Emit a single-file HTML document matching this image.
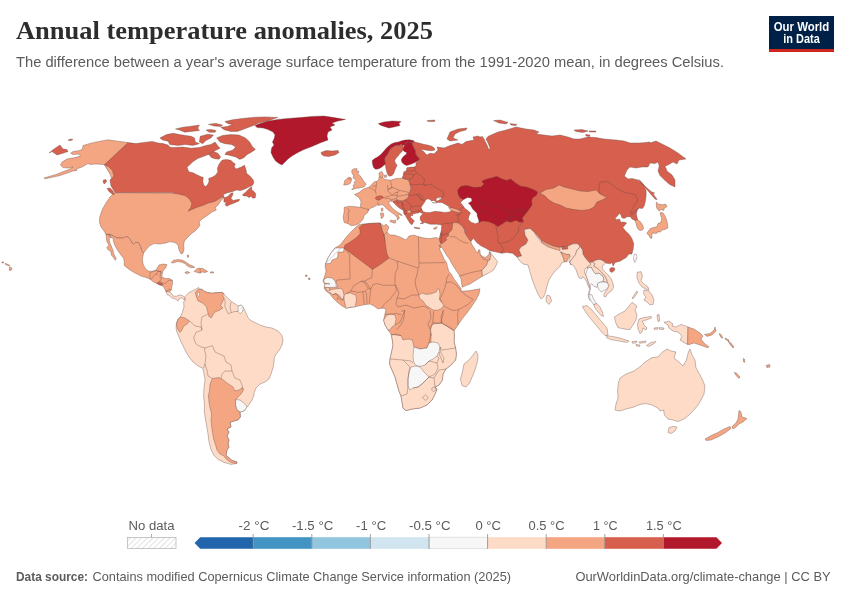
<!DOCTYPE html>
<html lang="en">
<head>
<meta charset="utf-8">
<title>Annual temperature anomalies, 2025</title>
<style>
html,body{margin:0;padding:0;background:#fff;}
body{width:850px;height:600px;overflow:hidden;position:relative;font-family:"Liberation Sans",sans-serif;}
svg{position:absolute;left:0;top:0;display:block;}
.title{font-family:"Liberation Serif",serif;font-weight:700;font-size:25px;fill:#2d2d2d;}
.sub{font-family:"Liberation Sans",sans-serif;font-size:14px;fill:#5b5b5b;}
.leg{font-family:"Liberation Sans",sans-serif;font-size:12.5px;fill:#5b5b5b;}
.foot{font-family:"Liberation Sans",sans-serif;font-size:13px;fill:#5b5b5b;}
.logo{font-family:"Liberation Sans",sans-serif;font-weight:700;font-size:12px;fill:#fff;}
</style>
</head>
<body>
<svg width="850" height="600" viewBox="0 0 850 600">
<defs>
<pattern id="hatch" patternUnits="userSpaceOnUse" width="4" height="4" patternTransform="rotate(45)">
<rect width="4" height="4" fill="#fff"/>
<line x1="0" y1="0" x2="0" y2="4" stroke="#d6d6d6" stroke-width="1.4"/>
</pattern>
</defs>
<rect width="850" height="600" fill="#fff"/>
<text class="title" x="16" y="39.3" textLength="417" lengthAdjust="spacingAndGlyphs">Annual temperature anomalies, 2025</text>
<text class="sub" x="16" y="66.7" textLength="708" lengthAdjust="spacingAndGlyphs">The difference between a year's average surface temperature from the 1991-2020 mean, in degrees Celsius.</text>
<g id="logo">
<rect x="769" y="16" width="65" height="36" fill="#002147"/>
<rect x="769" y="49" width="65" height="3" fill="#ce261e"/>
<text class="logo" x="801.5" y="30.6" text-anchor="middle" textLength="55.5" lengthAdjust="spacingAndGlyphs">Our World</text>
<text class="logo" x="801.5" y="42.6" text-anchor="middle" textLength="36.5" lengthAdjust="spacingAndGlyphs">in Data</text>
</g>
<g id="map" stroke="#5e4740" stroke-width="0.45" stroke-linejoin="round" stroke-opacity="0.8">
<path d="M115 192.6 180 193 186 191 196 201 221 196.2 223 198.2 220 202 218 205 215 208 216.4 210 212 212 208 215 205 217 202 219 199 222 200 225 198 228 195 231 191 234 187.6 237.4 184.4 241 183.6 245 184 249 183 253 181 254 179 250 178 245 175 242.6 170 241.6 166 243 160 244 154 243.6 150 245.6 147 248.6 144.4 252 143.6 253 141.6 250.4 140.4 246.4 138.4 242.6 135.6 242.4 133.4 244.4 132 243 130.4 239.6 128 237 125 236.6 123.6 238 117.6 238 114.4 236.6 111 234.6 106 234.4 104 231 101 227 99.6 223 99.6 218 101 213 103 208 106 203 110 197 113 194.0Z" fill="#f4a582"/>
<path d="M106 234.4 111 234.6 114.4 236.6 117.6 238 123.6 238 125 236.6 128 237 130.4 239.6 132 243 133.4 244.4 135.6 242.4 138.4 242.6 140.4 246.4 141.6 250.4 143.6 253 142.4 259 143 264 145 268 148 271 152 271.4 156 270 159 265 163 264 167 264.6 165.6 268 163 271 161.6 274 158 274 157 277 154 277.4 151 279.4 146 277.4 141 276 135 273 130 270 126 267 124 265 124.4 262 123.6 258.4 121 255 118.4 251.6 116 247.4 114.4 244.4 113.4 241 113 238 110 237.4 110 235.0Z" fill="#f4a582"/>
<path d="M106 234.3 110 235 110 237.3 109.3 238.3 109.3 241 110.3 243.7 111.7 247 113 250.3 113.7 253.7 115 256.3 116.3 259 115.3 260.3 113.7 257.7 111.3 255 111 251.7 108.3 250 106.7 247.7 109 245 107 242.3 106.3 238.3Z" fill="#f4a582"/>
<path d="M150 272.6 153.5 271.5 157.1 270.3 162.4 272.6 161.8 276.8 165.3 278.5 169.4 278.5 172.4 280.3 172.6 283.2 171.8 286.8 171.2 290.3 169.4 291.7 165.9 291.5 164.1 287.4 161.8 285.6 158.8 284.4 155.9 283.2 152.9 281.5 150 279.1Z" fill="#f4a582"/>
<path d="M165.9 291.5 169.4 291.7 171.8 293.8 173.5 296.2 176.5 296.2 179.4 295 182.4 295.6 184.7 297.4 185.3 300.3 183.5 299.7 181.8 297.9 179.4 298.5 178.2 300.9 176.5 299.7 174.1 298.5 171.8 297.9 169.4 295.6 167.1 294.4Z" fill="#fddbc7"/>
<path d="M157.1 283 160 282.6 162.4 284.2 161.8 285.4 158.8 284.6Z" fill="#d6604d"/>
<path d="M171.2 262.6 173.5 260.3 178.2 259.5 182.9 260.3 186.5 262.6 190 265 193.5 266.2 194.7 267.4 191.2 267.7 187.6 266.2 185.3 263.8 181.2 262.1 177.1 261.5 173.5 263.0Z" fill="#f4a582"/>
<path d="M194.1 271.5 197.1 268.5 199.4 268.2 202.9 268.5 205.9 270.3 207.6 271.5 205.3 272.4 201.8 272.1 200 273.2 197.1 272.4Z" fill="#f4a582"/>
<path d="M185.1 272.1 187.6 271.5 189.8 272.6 187.6 273.6 185.3 273.2Z" fill="#f4a582"/>
<path d="M210 272.1 212.9 271.7 214.1 272.6 211.2 273.2Z" fill="#f4a582"/>
<path d="M187.2 255.2 188.4 255 188.8 257.1 187.6 257.4Z" fill="#f4a582"/>
<path d="M128 142.6 136 143.6 144 142.4 152.4 141.4 158 143 163 143.6 168 145 170 147.2 174.7 147.5 182.9 147 191.2 148.2 199.4 147.5 206 145.4 210.9 144.5 215.1 142.1 217.5 145.4 220 148.2 215.9 150.3 212.6 151.9 208.5 154.4 204.4 156.1 197.8 158.5 192.8 161.8 189.5 165.1 187 167.3 188.7 171.7 193 172.8 196.3 174.4 200.6 176.5 203.3 177.6 202.8 181.4 203.8 185.2 205.5 186.6 207.6 184.7 209 181.4 208.7 178.4 212.5 177.1 215.8 174.9 217.9 171.7 217.4 168.4 218.5 165.2 220.6 161.9 222.3 160 226.6 159.5 230.9 160.3 233.1 162.5 235.3 164.1 234.2 166.8 236.3 169 240.7 167.3 244.5 165.2 246.1 170 246.6 173.3 250.4 176.5 253.1 179.8 253.9 182.5 252.6 185.2 249.3 186.8 245 189 240.7 190.6 236.3 190.1 232 191.7 227.7 192.8 223.3 194.4 224.4 197.7 227.7 196.6 230.9 193.3 233.1 192.8 232.5 195.5 230.9 198.2 233.1 200.4 236.3 199.8 239.6 199.3 239 200.9 234.2 203.1 229.8 204.7 226.6 206.3 225 204.2 226.6 202.5 223.9 202 223.9 198.2 222.3 197.1 219 198.8 214.7 201.5 208.2 203.1 203.3 205.3 197.9 206.9 193 209 188.1 211.2 190.8 207.4 191.9 203.1 189.2 198.8 184.9 195.5 180 194.4 178 194 172 192.6 115 192.6 111 186 110 180 113 177 104.4 164.6Z" fill="#d6604d"/>
<path d="M242.3 195 245 192.8 248.3 189.5 250.4 187.4 252 186.8 251.5 189.5 254.2 191.7 255.8 193.9 255.3 197.7 252.6 198.2 251 196 249.3 197.7 246.6 196 243.9 196.0Z" fill="#d6604d"/>
<path d="M224.9 121.5 232.4 119.8 242.2 118.5 252.1 117.4 265.3 116.9 277.7 117.4 271.9 119.5 265.3 121.5 258.7 123.1 255.4 124.8 248.8 127.2 242.2 129.7 237.3 131.4 230.7 131.4 224.1 129.7 220.8 127.2 227.4 126.4 232.4 124.4 227.4 123.4Z" fill="#d6604d"/>
<path d="M175.5 128.9 182.9 127.2 189.5 126.4 199.4 125.1 197.8 128.1 199.4 130.5 191.2 131.4 184.6 132.2 179.6 130.0Z" fill="#d6604d"/>
<path d="M206 130 210.9 129.4 215.9 130.5 215.1 132.2 209.3 132.3Z" fill="#d6604d"/>
<path d="M208.5 124.3 215.9 123.4 222.5 125.1 220.8 126.4 214.2 126.1Z" fill="#d6604d"/>
<path d="M159.9 137.9 166.5 134.6 173.1 133.3 179.6 134.6 185.4 135.5 191.2 136.3 194.5 137.9 195.3 142.1 199.4 143.7 192.8 145.4 185.4 144.5 178 145.4 169.8 144.5 168.1 141.2 162.4 139.9Z" fill="#d6604d"/>
<path d="M200.2 136.3 207.7 134.3 213.4 135 210.9 137.9 206 140.4 202.7 143.7 199.4 142.1Z" fill="#d6604d"/>
<path d="M216.7 137.9 222.5 135.5 230.7 134.6 238.9 135 245.5 137.9 249.7 142.1 252.1 146.2 255.4 149.5 250.5 152.8 247.2 154.4 243.9 157.7 239.8 159.4 235.7 156.9 229.1 155.2 224.9 154.4 226.6 151.9 232.4 150.3 235.7 147 231.5 144.5 224.9 143.7 220 142.1Z" fill="#d6604d"/>
<path d="M208.7 154.3 213.6 151.6 217.9 153.3 220.6 157 219 159.2 214.7 158.7 211.4 157.6Z" fill="#d6604d"/>
<path d="M107 188.4 110 188 113 191 114.4 194.4 112 194 109 191.6Z" fill="#d6604d"/>
<path d="M103.4 180 106 179.6 106.6 181.6 104.4 184 103.2 182.4Z" fill="#d6604d"/>
<path d="M128 142.6 118 141.2 108 139.8 99 141.4 90 143.4 83 145.6 82.4 149 80 150.4 73 151.6 70.6 153.2 73 154.6 79 154 80.4 156 75 157.6 67 159 62 162 60.4 165 63 167.6 68 168 73 167 70 169 56 174.4 44 178 45 178.8 60 175.6 73 171 77 170.4 76.4 169 82 167 88 163.6 90 164.4 96 164 104.4 164.6 109 167 112.4 170.4 114 176 111.6 178.4 110 174 107 169 104.4 164.6Z" fill="#f4a582"/>
<path d="M49 153 54 149 60 145 63 149 67 149.6 68 151.6 62 153.6 57 155 52 151.6Z" fill="#d6604d"/>
<path d="M68 140 71 139 73 139.6 70 140.8Z" fill="#d6604d"/>
<path d="M255 125.6 260 123.6 268 121 278 119.4 288 118.4 300 117.6 312 116.4 324 116 334 117.6 345.6 119.4 338 121 332 123 335 125 330 127 332 130 328 132 327 136 328 140 320 143 312 146.4 304 149.6 298 152.4 292 156 288 159 285 162 282 165 279 163.6 275.6 161 273 157 271 152.4 271.6 148 274 145 272.4 142 274 139 275 135 273 132 268 129.6 263 128 257 127.6Z" fill="#b2182b"/>
<path d="M321 152.4 326 150.6 332 151 338 150.4 339 152.6 335 155 329 156.4 324 156 321.6 154.4Z" fill="#d6604d"/>
<path d="M185.3 300.3 184.7 297.4 185.3 296.2 188.8 292.6 193.5 290.3 197.1 288.5 198.5 287.4 199.4 289.1 201.8 289.1 203.5 290.9 207.6 292.6 212.4 293.2 217.1 292.6 221.8 292.4 223.5 293.2 225.3 295.6 228.8 299.1 232.4 302.1 235.9 304.4 238.2 306.2 241.2 305 243.5 307.9 245.3 311.5 246.5 313.8 247.6 317 250 320 254 322 260 325 266 327 272 328 278 331 281.6 335 283 339 282.4 344 280 349 277 353 274.4 357 274 362 273 368 271 374 269 379 265 382 260 384 256 388 254 393 254 395 252 400 248 406 247 407 244 411 240 412 240.4 417 238 420 234 421 230 422.4 231 427 227 429 229 432 227 436 229 440 228 444 229 447 227 450 226 455 228 457 232 460.4 237 462 237 463.4 231 464.4 224 462.4 218 459.4 214 455.4 211 449.4 209 442 208 434 207 428 205.6 420 204.4 412 204.4 404 203.6 396 204 388 205 380 204 374 203 368.4 198 366 193 362 189 357 186 352 183.6 347 181 342 179 337 177 332.4 176 328 176.4 323 178 319 181 316 182.4 312 184 307 183.6 302.0Z" fill="#fddbc7"/>
<path d="M195.3 292.6 197.1 290.3 198.5 289.1 199.4 289.7 201.8 289.1 203.5 290.9 207.6 292.6 212.4 293.2 217.1 292.6 221.8 292.4 223.5 293.2 222.9 295.6 224.1 298.5 222.4 302.1 220.6 305.6 222.9 307.9 219.4 310.3 215.9 311.5 213.5 313.8 211.2 317.9 208.8 316.2 207.6 311.5 206.5 306.8 202.9 303.2 198.2 300.9 196.5 297.4Z" fill="#f4a582"/>
<path d="M197.6 292.6 199.2 292.4 199.6 295 198.5 296.4 197.4 295.0Z" fill="#ffffff" stroke="#5e4740" stroke-width="0.4"/>
<path d="M178 319 181 317 185 318 189.6 321 187 324 183.6 326.4 182 330 180 332.4 177.6 329 176.4 325.0Z" fill="#f4a582"/>
<path d="M238.2 306.2 241.2 305 243.5 307.9 242.4 311.5 240 313.8 238 311.5Z" fill="url(#hatch)"/>
<path d="M212.4 378.4 219 377.6 222 379 227 383 233 387 235 391 239 390 242.4 387.6 243.6 390 241 394 237 398 235.6 400 235.6 405 237 409.6 240 412 240.4 417 238 420 234 421 230 422.4 231 427 227 429 229 432 227 436 229 440 228 444 229 447 227 450 226 455 228 457 232 460.4 237 462 236 463.6 231 462.4 226 459 224 456 220 454 217 450 215.6 445 213.6 439 212.4 432 211.6 426 211 420 211.6 414 210 408 209 402 208.4 396 209.6 390 210 384.0Z" fill="#f4a582"/>
<path d="M235.6 399.6 240 400 245 404 247 407 244 411 240 412 237 409.6 235.6 405.0Z" fill="#f7f7f7"/>
<path d="M402.6 178.2 402.1 177.9 403.3 175 403.8 171.7 405.8 171.2 406.7 169.6 406.7 167.9 407.5 167.5 411.7 167.1 415 167.1 416.2 165.4 415.8 163.3 418.3 160.4 419.6 158.8 417.5 156.7 415.8 154.2 415.4 150.8 413.8 147.9 412.5 145 411.7 142.5 414.2 141.7 416.7 142.5 420 143.3 423.3 144.2 427.5 145 431.7 146.2 434.2 147.9 435 150 431.7 150.8 428.3 150.4 425 150 422.5 149.6 420.8 150 423.3 151.2 425 152.9 426.7 155 428.3 154.2 430 153.3 434.2 153.8 438 150 437 147 441 147.6 444 148 450 145.6 458 143 462 144.4 466 141.6 474 140 473 137 478 136 480 137 482.4 136.4 484 139 487 145 489 150 490 148 488 143 486 139 488 136.4 491 135 498 132 506 130 516 127 526 129 534 130 539 132 536 134 544 135 552 136 560 135 568 137 574 139 580 139 588 137 596 137.6 604 139 616 140 624 141 630 143 640 143 650 142 650 143 656 141 662 144 670 148 678 153 686 159 679 160 677 164 673 162 668 165 665 166 667 171 672 175 675 180 675 187 669.6 184.4 664 179.6 660 175.6 658 171 659.2 166 658 162 655 163.6 650 163 648 167 642 167 636 168 630 167 627 170 624.4 176 628 179 632 178.4 638 180 643 184 646 190 646.2 194.3 645.5 200.8 644.2 206 642.3 208.6 639 208 637.1 210.6 636.4 213.8 637.1 217.7 637.7 219.7 635.1 220.6 631.9 219 630.6 216.7 627.3 216.7 624.1 218.4 621.8 217.7 620.8 214.5 619.5 213.6 617.6 215.8 615 218.4 616.9 219.7 619.5 219 620.8 222.3 624.1 221.9 626.7 222.9 622.8 227.5 625.4 230.7 629.3 234.6 631.9 238.5 633.8 243.7 633.2 248.9 631.9 254.1 629 254 626.2 257.5 620 261.2 615 262.5 613.1 266.2 611.9 262.5 610 263.8 605.6 263.1 603.8 261.2 600 259.4 596.2 260 592.5 261.9 589.4 262.5 587.5 260.6 585 257.5 583.1 254.4 582.5 250 580 246.2 577.5 243.8 573.1 243.8 569.4 245.6 567.5 246.2 561.9 246.9 560 247.5 553.8 246.2 546.2 243.1 541.2 240.6 534 232 530 228.4 524.4 229.6 525 235 528 240 526 244 521 247 519 250 521.6 256 517 257 512.5 253.3 506.7 252.5 501.7 253.3 495 251.7 490 250.8 485.8 248.3 480.8 245.8 476.7 242.5 473.3 238.3 470.8 241.7 468.3 238.3 465 233.3 464.2 229.2 461.7 225.8 457.5 223.7 455.8 228.3 451.7 232.5 447.5 235 445 236.7 442.5 235 441.7 240 440.8 243.3 439.7 241.7 440 236.7 440.8 233.3 441.3 230 441.7 225 436.7 224.2 430 224.2 425 222.5 420 223.3 423.3 223.8 421.7 221.7 420.4 220 420 217.9 420.8 215.8 423.3 213.8 421.2 212.9 420 212.1 418.3 212.9 416.2 213.3 414.2 213.8 412.5 214.3 412.7 216 411 215.2 410.4 217.1 411.7 218.3 413.3 220 414.6 221.2 413.3 222.1 412.5 224.2 411.2 224.6 409.8 222.9 408.8 221.2 407.5 219.2 406.2 217.1 405.2 215 404 214.2 403.5 212.1 403.3 210 402.1 209.8 399.2 207.9 396.7 205.8 394.6 203.8 393.3 202.5 392.9 201.2 395 200.8 397.1 199.8 399.2 200.4 402.5 200.7 405.4 199.6 407.5 197.9 408.8 195.8 407.9 194.6 408.8 193.3 410 191.2 410.8 188.3 410 185 409.8 184.1 408.5 179.8Z" fill="#d6604d"/>
<path d="M369.1 187.3 372.1 184.1 374.7 181.5 376.6 181.5 378.6 179.5 379.2 176.9 379 173 381.8 171.4 383.4 174.3 382.9 177.6 384.4 179.2 390.3 180.2 396.1 178.5 402.6 178.2 408.5 179.8 409.8 184.1 410.8 188.3 410 191.2 408.8 193.3 407.9 194.6 408.8 195.8 407.5 197.9 405.4 199.6 402.5 200.7 399.2 200.4 397.1 199.8 395 200.8 392.9 201.2 391.5 201.2 391 201 388.8 201.8 389 204 390.5 205.8 392.2 208 394.5 210 397 211.8 400 213.5 402.2 215 401.5 215.8 399.5 214.5 398.2 215.5 399 217 399.5 218.2 398.2 219.2 397.5 220.2 397 219 397.2 217.5 396 216 394.2 214.2 392 212.8 389.5 211 387.2 209.2 385.5 207.5 384.2 205.8 382.5 204.8 380.5 204.8 378.8 205.5 377.5 204.8 374 206.8 369.5 208.8 367.5 210.1 369.1 209.7 367.5 212.7 364.3 215.3 363 219.2 359.7 223.1 355.8 225 351.3 225.7 348 223.7 344.1 222.4 343.1 217.2 344.1 212 344.1 207.5 349.3 206.2 355.8 206.8 361 207.5 360.4 206.2 361 201.6 359.1 197.7 354.5 194.5 359.1 192.5 363 189.3 366.2 188.0Z" fill="#f4a582"/>
<path d="M375.2 198.3 376.2 196.7 378.3 196 380.4 195.7 382.5 196.2 383.8 197.5 382.5 198.3 380.8 198.8 380 200 377.9 200.2 376.2 199.6Z" fill="#d6604d"/>
<path d="M406.8 210.8 409.2 210 411 210.7 411.2 212.1 409.6 213.2 407.5 212.9Z" fill="#f4a582"/>
<path d="M352 170 354 168.7 357.3 168.7 356.3 170.7 359 171.3 358 173.7 360 175.7 362 178.3 363.3 180.7 365.3 183 366 184.3 364.7 186.3 362.7 187.3 359.3 188 356 188.3 353.3 189.3 351.7 189.7 353.7 187.3 353 185.3 355 184.3 354 182.3 356 180.7 355 179.3 353 177.7 353.7 175.7 352.3 173.7 351.7 171.7Z" fill="#f4a582"/>
<path d="M343.7 185 344.3 182.7 344.7 180.7 346.7 178.7 348.7 177.3 351 177.7 351.7 179.3 351 181.7 350.3 183.3 348.7 184.3 346 185.0Z" fill="#f4a582"/>
<path d="M384.2 175.3 386.4 175 386.8 176.9 384.7 177.6Z" fill="#f4a582"/>
<path d="M389.8 220.8 391.5 220.2 393.5 220.8 395.5 220.2 395.8 221.5 395.2 223.2 394 223 392 222.2 390.2 221.8Z" fill="#f4a582"/>
<path d="M380.2 213.5 381.5 213 383.5 213.2 383.8 215 383.2 217 382 218.5 381.2 218.2 381 216.0Z" fill="#f4a582"/>
<path d="M381.2 208.5 382.2 207.9 383 208.5 382.9 210.5 382.2 211.5 381.4 211.0Z" fill="#f4a582"/>
<path d="M414.2 227.3 416.7 227.5 419.8 227.9 419.6 228.8 416.7 228.5 414.3 228.0Z" fill="#d6604d"/>
<path d="M433.3 228.3 435.4 227.5 437.3 226.7 436.7 227.9 435.8 229.2 434.2 229.3Z" fill="#f4a582"/>
<path d="M385.4 164.2 385 162.1 384.6 159.2 385.4 156.7 387.5 154.6 388.8 151.7 390 149.6 391.7 147.5 394.2 146.2 396.2 145 398.8 145.4 400.8 144.2 402.9 145 403.5 147.5 402.9 150 401.7 152.1 400 153.3 398.3 155.8 396.2 157.9 394.6 160.4 395.4 162.9 397.1 165.4 395.8 167.9 394.6 170.8 393.8 173.3 392.1 175.4 389.6 176.2 387.9 175 386.7 171.7 385.8 167.9Z" fill="#d6604d"/>
<path d="M372.1 160.8 374.2 158.8 377.5 157.1 380.8 154.6 383.3 151.7 385.8 148.8 388.3 146.2 391.7 143.8 395 142.5 398.3 142.1 401.7 140.8 405 140 409.2 139.8 413.3 140.4 414.2 141.7 411.7 142.5 408.3 142.1 405.8 143.3 404.6 145.4 402.9 145 400.8 144.2 398.8 145.4 396.2 145 394.2 146.2 391.7 147.5 390 149.6 388.8 151.7 387.5 154.6 385.4 156.7 384.6 159.2 385 162.1 385.4 164.2 383.3 165.8 381.2 167.5 378.8 168.8 375.8 169.3 373.8 167.9 372.7 165.0Z" fill="#b2182b"/>
<path d="M404.6 145.4 405.8 143.3 408.3 142.1 411.7 142.5 412.5 145 413.8 147.9 415.4 150.8 415.8 154.2 417.5 156.7 419.6 158.8 418.3 160.4 415.8 162.1 413.3 163.3 410 164.6 406.7 165.4 404.2 164.6 402.1 162.5 401.2 160 402.5 157.5 404.2 155.8 406.2 154.2 406.7 152.5 404.2 151.5 402.9 150 403.5 147.5Z" fill="#b2182b"/>
<path d="M378.4 123.6 384 122 392 121 401 121.4 399 123.6 400 125.6 394 127 389 128 384 126.4 380 125.0Z" fill="#b2182b"/>
<path d="M447 139 450 132 458 129 467 128 466 130 460 131.6 455 134 453 138 458 140 450 141.0Z" fill="#d6604d"/>
<path d="M427 120.6 435 120 434.4 121.6 428 121.6Z" fill="#d6604d"/>
<path d="M493.6 120.6 500 120 508 122.4 506 124 499 123.0Z" fill="#d6604d"/>
<path d="M510 123.6 517 124.4 516 125.6 511 125.0Z" fill="#d6604d"/>
<path d="M574 130 582 129.6 588 131 583 132.4 576 131.6Z" fill="#d6604d"/>
<path d="M589 131 596 131 595.6 132 589.6 132.0Z" fill="#d6604d"/>
<path d="M585.6 134.4 590 135 589.6 136.4 586 136.0Z" fill="#d6604d"/>
<path d="M640.3 180.7 642.9 183.9 646.8 187.8 651.4 191.7 654.6 193 653.3 194 655.3 196.9 657.2 199.5 655.3 199.2 652 195.6 648.8 191.7 644.9 187.2 641.6 183.3 639 179.6Z" fill="#d6604d"/>
<path d="M540 193 546 189.6 554 188 559 185 564 187 572 189 580 191 588 191.6 596 190 600 194 607 197.6 602 200 597 202 594 207 589 209.6 582 210.4 574 209.6 566 208 560 205 554 203 549 200 545 196.0Z" fill="#f4a582"/>
<path d="M457.7 189.7 461.2 186.2 466.9 185.5 474 187.6 481.1 186.9 483.9 184.1 481.8 181.2 486.7 179.1 492.4 177.7 496.7 176.3 500.9 178.4 506.6 180.5 510.8 179.1 515.1 182.7 520.7 186.2 526.4 186.9 532.1 189 537.7 191.9 536.3 195.4 532.8 197.5 531.4 201.1 532.1 204.6 529.9 208.2 527.8 211 525 214.5 522.2 218.1 523.6 221.6 520 222.3 515.8 220.2 510.8 222.3 506.6 220.9 502.3 223.7 498.1 226.6 493.8 223.7 488.2 221.6 482.5 220.9 479 222.3 478.5 219.5 477.1 213.8 475.4 211.7 472.6 208.9 470.5 205.3 468.3 203.2 471.9 201.1 471.4 198.2 467.6 197.5 463.4 199.7 459.8 197.5 458.1 194.0Z" fill="#b2182b"/>
<path d="M460.5 202.5 463.4 199.7 467.6 197.5 471.4 198.2 471.9 201.1 468.3 203.2 470.5 205.3 472.6 208.9 475.4 211.7 477.1 213.8 477.1 215.9 478.5 219.5 479 222.3 475.4 223.7 471.2 222.3 468.3 219.5 469 215.9 470.5 213.1 467.6 210.3 464.8 208.2 462.7 205.3Z" fill="#ffffff" stroke="#5e4740" stroke-width="0.4"/>
<path d="M422.1 210 421.2 207.1 422.5 205 424.2 202.9 425.4 200.4 427.5 198.8 430 199.6 431.7 201.2 433.3 200.4 435.4 201.2 436.7 202.9 434.2 203.3 432.1 202.5 441.7 202.5 445 204.2 449.2 206.7 452.5 209.7 450 211.7 445 212.5 440 211.7 435 211.3 430 212.5 426.7 212.5 423.3 211.7Z" fill="#ffffff" stroke="#5e4740" stroke-width="0.4"/>
<path d="M435.8 200.4 436.7 198.3 438.8 197.5 440.8 197.1 441.7 198.8 439.2 200 437.1 201.0Z" fill="#ffffff" stroke="#5e4740" stroke-width="0.4"/>
<path d="M448.5 207.5 452.7 207.9 457.7 209.6 461.2 211.7 459.1 212.7 454.9 211.7 450.6 210.3Z" fill="#f4a582"/>
<path d="M359 224.6 363 224 370 223.4 380 223 384 226 386 224 389 227 387 232 390 235 394 235 400 237 406 240 409 236 414 235 418 236.6 424 238 430 238.6 436 237.4 442.4 240 440.8 248 439.2 245 440.2 250.6 442.4 254.8 443.8 258.8 446.6 262.6 447.4 266.6 448.8 271.2 451.6 274.4 453.4 278.2 456.6 282.2 459.4 286.4 461.2 288.6 460.4 290.6 462.4 291.2 470 290.6 480 288.8 479 294 476 300 472 306 467 313 462 319 458 325 454 331 454.4 336 454 342 455.6 348 456.4 354 455.6 360 451 365 446 369 443 374 442.4 380 439 385 435 387 437 389 435 394 432 400 427 405 420 408 412 409 406 410.6 403 408 402 402 401 396 399 391 397 384 395 377 392 370 389.6 364 390 359 391.6 352 393 345 392 338 391 334 388 330 385 325 383.6 320 385 314 386 309 382 308 378 309 374 306 370 304 363 305 356 306.6 346 308 342 306 337 302 333 298 330 294 326 291 324 288 325 285 323 281 325 275 326 271 325 266 326 263 328 258 331 253 335 248 340 245 344 240 348 235 352 231 356 227.0Z" fill="#f4a582"/>
<path d="M359 227.4 363 224.6 370 223.4 380 223 381 227 382 231 384 235 385 241 386 248 387 254 389 258 381 264 372.4 269.4 368 266 360 260 352 254 344 248 345 245 350 242 356 238 360 234 360 230.0Z" fill="#d6604d"/>
<path d="M335 248 344 248 343.6 252 338 252 337.6 258 332 260 331 263 325 264 326 263 328 258 331 253.0Z" fill="url(#hatch)"/>
<path d="M323.6 280 327 277.4 332 278 336 282 337.6 287 332 287.4 326 287.4 324 286 325 284 330 284 324.4 283.0Z" fill="#f7f7f7"/>
<path d="M325.3 287.6 330 288.2 328.8 290.8 331.8 289.4 336.5 288.8 341.2 288.2 342.9 290.8 344.1 295.3 342.9 300 341.2 297.6 338.8 295.3 335.9 293.5 332.9 294.7 330.6 292.9 328.8 292.4 326.5 289.4Z" fill="#fddbc7"/>
<path d="M344.1 295.3 346.5 293.5 350.6 292.9 354.1 294.7 355.9 294.7 356.5 300 355.3 306.7 349.4 307.3 345.9 308.5 345.3 305.3 344.1 300.0Z" fill="#fddbc7"/>
<path d="M418.8 295.6 421.9 293.1 426.2 294.4 431.2 293.8 436.2 291.9 437.5 288.8 439.4 289.4 440 294.4 439.4 299.4 441.9 302.5 443.8 305.6 441.2 308.8 437.5 310.2 433.1 310 429.4 307.5 426.2 305.6 423.1 301.2 420 298.8Z" fill="#fddbc7"/>
<path d="M391 334.4 401 335.6 403 340 408 339 412.4 340 414 347 420 349 427 348 429 343 431 342 431 334 430 329 433 324 442 323 454 331 454.4 336 454 342 455.6 348 456.4 354 455.6 360 451 365 446 369 443 374 442.4 380 439 385 435 387 437 389 435 394 432 400 427 405 420 408 412 409 406 410.6 403 408 402 402 401 396 399 391 397 384 395 377 392 370 389.6 364 390 359 391.6 352 393 345 392 338.0Z" fill="#fddbc7"/>
<path d="M383.6 320 387 315 390 314 395 315 396 319 395 325 392 327 390 330 388 330 385 325.0Z" fill="#fddbc7"/>
<path d="M414 347 420 349 427 348 429 343 433 342 438 343 440 347 439 352 437 356 433 359 429 361 425 365 420 366.4 416 365.6 413.6 362 413 355.0Z" fill="#f7f7f7"/>
<path d="M411 367 416 366 420 367 424 372 429 377 426 380 422 384 418 387 413 388 410 390 408 386 408 379 409 372.0Z" fill="#f7f7f7"/>
<path d="M476 351 478 355 477.6 361 475.6 368 473 375 469.6 383 466 387 462 385.6 460.4 379 462.4 372 464 364 469 360 473 355.0Z" fill="#fddbc7"/>
<path d="M441.4 235.1 443.4 234.8 445.7 234.2 448.4 233.7 449.8 231.9 451.6 230.2 452.2 228.4 452.4 225.5 452.7 222.9 454.5 222.6 458.6 222.9 459.7 224.3 461.7 225.8 464.2 229.2 465 233.3 468.3 238.3 470.8 241.7 472 244.7 474.2 248 476.3 251.7 478 253 478.3 250 479.7 249.7 480.3 254.2 482.5 256.7 485.8 257.3 488.7 254.7 489.7 251.7 490.8 255 490 260 488.3 260.3 486.7 265 482 270.3 482.5 276.2 477.5 279.3 470 284 465.3 285.8 462.2 287.2 461.7 284.5 461.2 279.8 459.8 275.8 457 271.7 454.3 267.5 451.5 263.3 450.2 260.2 447.5 256.5 444.7 252.3 442 247.8 440.2 245.3 440.8 243.3Z" fill="#f4a582"/>
<path d="M489.7 251.7 491.7 254.2 495 258.3 497.5 261.7 496.3 265 493.7 270 487.5 273.7 482.5 276.2 482 270.3 486.7 265 488.3 260.3 490 260 490.8 255.0Z" fill="#fddbc7"/>
<path d="M441.4 235.1 443.4 234.8 445.7 234.2 448.4 233.7 449 235.4 446.9 236.9 445.5 238 446.9 239.5 445.7 240.9 444 242.1 442.5 243.3 441.1 243.6 440.8 241.2 441.1 238.3Z" fill="#d6604d"/>
<path d="M439.3 239.5 439.9 236.6 440.5 233.7 441.4 231.9 442 232.5 441.7 234.8 441.4 238.3 441.1 241.2 440.8 243 440.2 242.4Z" fill="#d6604d"/>
<path d="M440.2 236.1 441 236 441.1 237.6 440.3 237.7Z" fill="#f4a582"/>
<path d="M524.4 229.6 530 228.4 534 232 537 237 541 242 548 247 556 249 560 247.5 561.9 246.9 567.5 246.2 569.4 245.6 573.1 243.8 577.5 243.8 580 246.2 578.8 248.8 576.9 250 575.6 254.4 573.1 257.5 571.2 260 570 262.5 571.2 265 569.4 262.5 568.8 259.4 570 256.2 569.4 254.4 566.2 254.4 563.1 253.1 560.6 251.9 562.5 255.6 563.8 258.8 564.4 261.9 561.6 263 559.6 267 556 270 552 275 549 280 547 286 545.6 292 543.6 297 541 299 538 294 535 287 532.4 280 530 272 528 265 523 264 519 260 517 257 521.6 256 519 250 521 247 526 244 528 240 525 235.0Z" fill="#fddbc7"/>
<path d="M541.2 240.6 546.2 243.1 553.8 246.2 560 247.5 560 250.6 553.8 248.8 546.2 245.6 541.5 242.5Z" fill="#f4a582"/>
<path d="M561.9 246.9 567.5 246.2 567.8 249 562.2 249.4Z" fill="#d6604d"/>
<path d="M560.6 251.9 563.1 253.1 566.2 254.4 569.4 254.4 570 256.2 568.1 258.1 566.9 261.9 564.4 261.9 563.8 258.8 562.5 255.6Z" fill="#f4a582"/>
<path d="M547 295 550 296 551.6 301 549 304.4 546.4 302 546 298.0Z" fill="#fddbc7"/>
<path d="M580 246.2 582.5 250 583.1 254.4 585 257.5 587.5 260.6 589.4 262.5 591.2 263.8 589.4 265.6 587.5 266.9 585 268.8 584.4 271.9 585.6 274.4 586.9 277.5 588.1 281.2 589.4 285 590 288.8 588.1 286.2 586.9 281.9 585 278.8 582.5 276.9 581.2 278.8 578.8 277.5 577.5 274.4 576.2 270 573.8 266.2 571.9 264.4 571.2 265 570 262.5 571.2 260 573.1 257.5 575.6 254.4 576.9 250 578.8 248.8Z" fill="#fddbc7"/>
<path d="M585.6 274.4 587.5 268.1 591.2 266.9 593.1 270.6 595.6 273.8 598.8 273.1 601.9 275 603.8 278.1 603.1 281.9 600 282.2 597.5 283.8 596.9 287.5 593.8 286.2 591.9 283.8 590 285 590.6 288.8 589.4 292.5 590.6 296.2 593.1 300 589.4 300 588.1 295 589.4 290 589.4 285 588.1 281.2 586.9 277.5Z" fill="#f7f7f7"/>
<path d="M589.4 262.5 592.5 261.9 595 263.8 593.8 266.2 597.5 268.1 601.2 271.9 605 276.2 606.9 280 607.5 282.5 603.1 281.9 603.8 278.1 601.9 275 598.8 273.1 595.6 273.8 593.1 270.6 591.2 266.9 587.5 268.1 587.5 266.9 589.4 265.6 591.2 263.8Z" fill="#fddbc7"/>
<path d="M597.5 283.8 600 282.2 603.1 281.9 607.5 282.5 608.8 285.6 607.5 288.8 603.8 290.6 601.2 291.9 598.8 289.4 597.5 286.2Z" fill="#f7f7f7"/>
<path d="M592.5 261.9 596.2 260 600 259.4 603.8 261.2 605.6 263.1 603.1 265 601.9 268.1 604.4 271.2 608.1 275 611.2 278.8 613.1 283.8 613.5 287.5 611.2 291.2 608.1 293.1 605.6 296.9 603.8 296.2 604.4 293.1 607.5 288.8 608.8 285.6 607.5 282.5 606.9 280 605 276.2 601.2 271.9 597.5 268.1 593.8 266.2 595 263.8Z" fill="#fddbc7"/>
<path d="M609.8 268.5 611.9 267.5 614.8 268.1 614.4 270.6 611.9 272.5 609.8 271.2Z" fill="#d6604d"/>
<path d="M634.4 254.4 636.2 254 636.9 256.2 636 260.6 634.8 262.5 633.5 259.4 633.8 256.2Z" fill="url(#hatch)"/>
<path d="M635.1 220.6 637.7 219.7 640.3 221.6 642.9 225.5 643.6 228.8 641.6 230.5 639 230.1 637.1 227.5 636.2 224.2Z" fill="#f4a582"/>
<path d="M656.2 202.1 658.5 204.1 662.4 204.7 665.7 204.1 667 206.7 664.4 208 663.7 210.6 661.1 209.3 659.2 211.2 656.6 208.0Z" fill="#f4a582"/>
<path d="M660.1 212.8 662.7 212.5 665 215.8 666.3 219 667.6 224.2 667.9 227.9 665 229.4 662.2 230.1 660.1 232.3 657.9 231.4 657.2 233.1 654.6 233.6 652.7 232.7 651.8 235.3 652 237.9 650.7 238.5 649.2 235.9 646.8 233.3 647.9 231.8 650.1 228.8 653.3 227.5 657 226.8 657.9 223.6 660.9 222.3 661.8 218.4 660.5 215.1Z" fill="#f4a582"/>
<path d="M582.4 306.4 587 305.6 592 310 597 316 602 322 607 328 608 335 605 335.6 600 330 595 324 590 318 585 311.0Z" fill="#fddbc7"/>
<path d="M593.6 304.4 597 303.6 600 307 602.4 312 603.6 316.4 601 315.6 598 312 595 308.0Z" fill="#fddbc7"/>
<path d="M589 294 592 295 594 300 596.4 303.6 593.6 304.4 591 301 589 297.0Z" fill="#f7f7f7"/>
<path d="M606.4 335.6 612 336.4 620 338 629 341 627 342.4 619 341 611 339.6 607 338.0Z" fill="#fddbc7"/>
<path d="M632 341.6 637 341 636 343 632.4 343.2Z" fill="#fddbc7"/>
<path d="M639 342 646 341 645.6 342.6 639.6 343.2Z" fill="#fddbc7"/>
<path d="M636 344.4 640 345 639.6 346.4 636.4 346.0Z" fill="#fddbc7"/>
<path d="M646.4 345.6 651 342.4 656 341.6 654 343.6 649 346.4Z" fill="#fddbc7"/>
<path d="M614.4 317 619 314 625 311 629 306 632 302.4 637 306 635 310 637 315 636 320 633 325 630 329.6 624 329 618 327.6 615.6 322.4Z" fill="#fddbc7"/>
<path d="M639 319 644 317.6 651 316.4 651.6 318 646 320 642.4 321 644 325 647 328 646 330 643 328 642 332 640 333.6 638 329 637.6 324.0Z" fill="#fddbc7"/>
<path d="M637 272.4 641 271.6 642.4 276 641 281 644 284 648 287 649 290 646 289 642 287 639 283 637 278.0Z" fill="#fddbc7"/>
<path d="M644 290 649 291 652 295 654 300 653 304.4 650 305 647 302 644 300 646 297 643.6 294.0Z" fill="#fddbc7"/>
<path d="M632 298 637 291 637.6 292.4 633 299.0Z" fill="#fddbc7"/>
<path d="M657 315 659 314.4 659.6 321 658 321.6Z" fill="#fddbc7"/>
<path d="M654 328 658 327.6 657.6 329.2 654.4 329.4Z" fill="#fddbc7"/>
<path d="M659 327.6 664 328 663.6 329.6 659.4 329.2Z" fill="#fddbc7"/>
<path d="M664 322.4 669 321 673 324 672 326 676 327 681 324.4 688 327 687.6 344.4 683 342 680 340 682 336 678 332 673 331 669 328 668 325.0Z" fill="#fddbc7"/>
<path d="M688 327 694 329 700 333 703 336 701 339 704 343 709 347 707 347.6 700 345 694 343 690 344.4 687.6 344.4Z" fill="#f4a582"/>
<path d="M704.4 334.4 710 333.6 714 330 715 327 716 331 712 335 707 336.4Z" fill="#f4a582"/>
<path d="M719 333.6 721 334.4 723 338 721 337.6Z" fill="#f4a582"/>
<path d="M725 338 729 340 728.6 341.2 725.6 339.6Z" fill="#f4a582"/>
<path d="M620 378 626 374 634 371 641 366 645 362 652 357.6 658 357 662 352.4 667 349 671 351 676 352 674 358 679 362 683 366 686.4 360 688.4 352 690 349 692 355 695 360 696 368 700 375 703 381 705 386 704 394 701 400 698 405 694 410 689 415 684 419 678 421.6 673 420 668 419 664.4 415 663.6 410 660 411 658 408 652 405 646 403.6 640 404.4 634 407 626 409 620 411 615 410 616 404 618 398 617.6 390 618.4 383.0Z" fill="#fddbc7"/>
<path d="M669 427.6 673 426.4 677 427 675 431 671 433.6 668 432.4Z" fill="#fddbc7"/>
<path d="M739 410.4 741 412 742 417 747 418.4 743 422 739 424 736 427 733 429 732 426.4 736 423 738 419 738.4 415.0Z" fill="#f4a582"/>
<path d="M730 426.4 731 428.4 725 433 718 437 711 440 706 440.4 705 439 711 435.6 718 432.4 724 429.0Z" fill="#f4a582"/>
<path d="M734.4 372.4 736.4 373 740 377 739 378.4 735.6 375.0Z" fill="#f4a582"/>
<path d="M743.2 358.4 744.4 359 744.8 362.4 743.6 362.0Z" fill="#f4a582"/>
<path d="M766 365.6 769.6 364.4 770 367 767 367.6Z" fill="#f4a582"/>
<path d="M728 341 731 343 734 347 733 348 730 344.4Z" fill="#f4a582"/>
<path d="M189.6 321 195 326 201 327 202 330 201 323 202 317 208 314.0" fill="none"/>
<path d="M202 330 196 332.4 193.6 338 196 344 201 347 205 348 204.4 349 206 356 205 364 203.6 368.0" fill="none"/>
<path d="M205 348 212.4 345.6 215 352 224 356 226 362 231 365 232 371 225 371 222 374 221 378.4" fill="none"/>
<path d="M205 364 207 370 208 376 212.4 378.4" fill="none"/>
<path d="M232 371 235 378 240 380 242 385 243 389.0" fill="none"/>
<path d="M344 248 349.6 254.6 350 279 337 280 336 282.0" fill="none"/>
<path d="M389 258 397 261 398 267 395 274 395 284 397 288.0" fill="none"/>
<path d="M397 261 418 268 417 275 415 281 416 287 419 295.0" fill="none"/>
<path d="M418.4 237 419 263 445 262.6" fill="none"/>
<path d="M419 263 419 267.4 418 268.0" fill="none"/>
<path d="M397 288 399 293 397 298 404 299 412 295 419 295.0" fill="none"/>
<path d="M397 298 396 304 398 307 406 305 414 308 424 306 429 309.0" fill="none"/>
<path d="M441.9 302.5 440 298.8 442.5 293.8 445 287.5 446.2 282.5 446.9 277.5 449.4 273.8" fill="none"/>
<path d="M446.2 282.5 451.2 281.9 456.2 285 459.4 288.8 461.9 291.2 465 295 473.1 299.4 468.1 304.4 462.5 307.5 458.8 309.4 457.5 313.8 457.8 320 458.1 325.0" fill="none"/>
<path d="M443.8 305.6 448.8 308.8 453.8 310.6 458.8 309.4" fill="none"/>
<path d="M442.5 310.6 443.1 315 441.2 320 441.2 323.1 447.5 326.2 453.8 330.0" fill="none"/>
<path d="M433.8 311.2 433.1 317.5 432.8 322.5 435 323.1 441.2 323.1" fill="none"/>
<path d="M432.8 322.5 431.2 326.2 430.6 331.2 431.2 336.2" fill="none"/>
<path d="M380 223 382 229 384 235.0" fill="none"/>
<path d="M387 232 384 235 385 241.0" fill="none"/>
<path d="M390 359 403 360 411 361 413 363.0" fill="none"/>
<path d="M403 360 410 367 409 372 408 379 408 386 407 394 401 396.0" fill="none"/>
<path d="M413 388 418 387 422 384 426 380 429 377 434 378 435 387.0" fill="none"/>
<path d="M425 365 429 361 437 363 438 368 435 374 429 377.0" fill="none"/>
<path d="M437 363 439 358 437 356.0" fill="none"/>
<path d="M440 347 442 350 455.6 348.0" fill="none"/>
<path d="M440 347 441 353 444 358 443 363 440 356 439 352.0" fill="none"/>
<path d="M434 378 439 370 446 369.0" fill="none"/>
<path d="M422.4 397.6 425.4 395 428.4 397.6 425.4 400.4 422.4 397.6" fill="none"/>
<path d="M432 388 434.4 387 436 389.6 433.6 391.6 431.6 390 432 388.0" fill="none"/>
<path d="M401 335.6 395 334 392 335.0" fill="none"/>
<path d="M395 325 400 322 403 315 405 310.0" fill="none"/>
<path d="M429 343 430 338 431 334.0" fill="none"/>
<path d="M442 323 441 316 444 310.0" fill="none"/>
<path d="M430 329 428 324 431 318 430 310.0" fill="none"/>
<path d="M377.9 201.7 378.3 205.4" fill="none"/>
<path d="M383.8 197.5 386.7 196.7 390 195.8 392.5 195 396.7 195.4 397.1 197.5 396.5 198.8" fill="none"/>
<path d="M387.9 189.6 390 188.3 392.9 187.5 395.8 188.8 399.6 190.4 397.9 192.1 395 192.9 392.5 195 390 192.9 387.9 191.2 387.9 189.6 387.5 185.0" fill="none"/>
<path d="M399.6 190.4 403.3 191.2 407.9 192.1 408.5 193.3" fill="none"/>
<path d="M396.7 195.4 397.9 192.1" fill="none"/>
<path d="M397.1 195.7 398.8 196.2 401.7 195.8 405 195 407.9 194.6" fill="none"/>
<path d="M384.6 198.8 386.7 198.3 390 198.8 391.8 199.8 393.3 199.2 396.5 198.8 397.1 199.8" fill="none"/>
<path d="M391.8 199.8 391.5 201.2" fill="none"/>
<path d="M408.8 195.8 412.5 195 416.7 194.6 419.2 196.7 420.8 199.2 423.3 200.4 425 200.4" fill="none"/>
<path d="M416.7 194.6 420 197.5 421.2 200.0" fill="none"/>
<path d="M416.7 194.6 419.2 193.8 422.1 195.8 423.3 198.8 421.7 200.0" fill="none"/>
<path d="M405.4 199.6 407.5 201.7 410 203.8 411.2 207.1 415 206.2 420 205.8 422.5 205.0" fill="none"/>
<path d="M395.8 202.9 400 202.1 402.5 202.5 402.1 205.8 403.3 207.9 402.5 209.2" fill="none"/>
<path d="M402.5 202.5 403.3 205.4 402.1 205.8" fill="none"/>
<path d="M403.3 207.9 405 208.8 404.6 210.8 406.8 210.8" fill="none"/>
<path d="M411.2 207.1 410 209.2 411 210.7" fill="none"/>
<path d="M404.6 210.8 405 213.3 407.5 213.1" fill="none"/>
<path d="M403.3 210 404.6 210.8" fill="none"/>
<path d="M411.2 212.1 413.3 211.7 416.7 211.2 419.2 210.8 420.4 209.6 422.1 210.0" fill="none"/>
<path d="M405 213.3 405.2 215.0" fill="none"/>
<path d="M419.2 210.8 420 212.1" fill="none"/>
<path d="M347.4 208.1 349.3 210.1 348 214.6 348.7 218.5 347.4 222.2" fill="none"/>
<path d="M361 207.5 369.1 209.7" fill="none"/>
<path d="M369.1 187.3 372.7 189.3 375.3 191.2 376.4 194.5" fill="none"/>
<path d="M372.1 186 376.4 186.0" fill="none"/>
<path d="M376.6 181.5 376.4 184.7 376 188 375.3 191.2" fill="none"/>
<path d="M379.2 176.9 382.9 177.6" fill="none"/>
<path d="M390.3 180.2 391.2 184.1 392 187.3 388.3 189.3" fill="none"/>
<path d="M405.9 171.1 413 171.1 415 169.8" fill="none"/>
<path d="M403.3 174.3 409.1 173.7 414.3 175.0" fill="none"/>
<path d="M415 165.2 415 169.8 416.3 173 414.3 175 412.4 178.2 408.5 179.8" fill="none"/>
<path d="M402.6 178.2 405.9 179.2 408.5 179.8" fill="none"/>
<path d="M416.3 173 420.8 175.6 424.7 179.5 423.4 184.1 426 185.4" fill="none"/>
<path d="M409.8 184.1 415.6 184.7 420.8 184.1 426 185.4 431.2 184.1 436.4 188 442.9 191.2 444.2 195.8 441 197.7 439 199.0" fill="none"/>
<path d="M348 178 349.7 179.3 351.3 179.3" fill="none"/>
<path d="M600 194 599 188 600 182 608 181.6 616 188 624 192.4 635 194.4 638 200 634 206 630 214 639 208.0" fill="none"/>
<path d="M630.6 216.7 633.8 213.2 637.1 210.6" fill="none"/>
<path d="M478.3 206.7 481.7 201.7 486.7 202.5 491.7 206.7 498.3 205.8 503.3 208.3 508.3 211.7 513.3 210 520 208.3 526.7 211.7" fill="none"/>
<path d="M478.3 212.5 484.2 210 490 214.2 496.7 219.2 503.3 224.2" fill="none"/>
<path d="M510 214.2 516.7 212.5 526.7 211.7" fill="none"/>
<path d="M508.3 218.3 513.3 216.7 520 217.5 522.5 222.5" fill="none"/>
<path d="M508.3 211.7 510 214.2 508.3 218.3 508.3 222.5" fill="none"/>
<path d="M495.8 225 496.7 230.8 498.3 236.7 497.5 241.7" fill="none"/>
<path d="M497.5 241.7 500 243.3 505 242.5 510 240.8 513.3 238.3 515.8 235 518.7 231.7 518.3 227.5 520 225 522.5 222.5" fill="none"/>
<path d="M497.5 241.7 501.7 245.8 503.3 249.2 501.7 253.3" fill="none"/>
<path d="M441.7 224.3 444.6 223.5 448.7 223.2 452.7 222.9" fill="none"/>
<path d="M458.5 222.8 458 216.7 459.2 213.3" fill="none"/>
<path d="M459.2 210 463.7 206.7" fill="none"/>
<path d="M455.8 215 460 214.2 461.7 212.5" fill="none"/>
<path d="M458.7 276.3 468.3 273.3 475 271.7 482 270.3" fill="none"/>
<path d="M450 236.7 455 236.7 459.2 240 464.2 242.5 468.3 243.3" fill="none"/>
<path d="M480.3 254.7 483.3 259.2 488.3 260.3" fill="none"/>
<path d="M440.8 233.3 442.5 235.0" fill="none"/>
<path d="M372.4 268.8 371.8 277.6 364.1 281.2 361.2 281.2 354.1 285.3 350.6 291.2 346.5 293.5" fill="none"/>
<path d="M335.3 281.8 336.5 287.1" fill="none"/>
<path d="M361.2 281.2 364.7 282.9 368.2 288.2 365.3 291.2 362.9 291.8 356.5 292.4 355.3 291.5 350.6 291.2" fill="none"/>
<path d="M362.9 291.8 364.1 304.1" fill="none"/>
<path d="M365.3 291.2 366.5 294.1 367.1 303.8" fill="none"/>
<path d="M368.2 288.2 370.6 289.4 370 295.3 369.4 303.5" fill="none"/>
<path d="M364.1 281.2 367.1 283.5 370.6 289.4 372.9 284.7 376.5 283.5 383.5 285.3 390.6 285.3 395.3 285.3" fill="none"/>
<path d="M395.3 285.3 396.5 290.6 392.9 295.3 389.4 300 385.9 302.4 383.5 305.3 381.2 308.8" fill="none"/>
<path d="M332.9 294.7 335.9 293.5 338.2 296.5 337.1 300.0" fill="none"/>
<path d="M338.2 298.2 340.6 299.4 342.9 300.6" fill="none"/>
<path d="M384.9 314.1 389.4 314.4 396.5 313.5 401.2 314.7" fill="none"/>
<path d="M401.2 311.2 404.7 310.6 404.1 316.5 402.4 322.4 400 325.9 396.5 330.0" fill="none"/>
<path d="M224.1 298.5 225.3 302.1 224.7 305.6 226.5 310.3 228.2 313.8 231.2 312.6 234.7 311.5 238 311.5" fill="none"/>
<path d="M231.2 302.1 230 306.8 231.2 312.6" fill="none"/>
<path d="M150.9 279.4 153.5 276.2 155.3 274.4 157.1 274.4 157.3 271.5 161.2 271.5" fill="none"/>
<path d="M161.2 271.5 160.4 272.6 160 277.4 161.8 278.5 159.4 281.5 157.1 283.0" fill="none"/>
<path d="M159.4 281.5 162.4 282.6 162.4 284.2 165.3 283.2 168.8 280.3 172.4 280.3" fill="none"/>
<path d="M165.9 291.5 169.4 289.1 171.2 290.3" fill="none"/>
<path d="M200 268.3 200.4 273.2" fill="none"/>
<path d="M1.8 262 3.5 261.8 3.5 263 2 263.0Z" fill="#f4a582"/>
<path d="M5 263.3 7 264 9.5 265.2 9.8 266.2 8 265.6 5.2 264.3Z" fill="#f4a582"/>
<path d="M9.3 267.5 11 267.2 12 268.6 11.2 270.2 9.5 270.6Z" fill="#f4a582"/>
<path d="M305.5 275 307 275 307 276.5 305.5 276.5Z" fill="#f4a582"/>
<path d="M308.5 278 310 278 310 279.5 308.5 279.5Z" fill="#f4a582"/>
</g>
<g id="legend">
<rect x="127.5" y="537.5" width="48.5" height="11" fill="url(#hatch)" stroke="#b8b8b8" stroke-width="0.8"/>
<line x1="151.5" y1="534" x2="151.5" y2="537.5" stroke="#999" stroke-width="0.8"/>
<text class="leg" x="151.5" y="529.8" text-anchor="middle" textLength="46" lengthAdjust="spacingAndGlyphs">No data</text>
<path d="M194.6 543 L200.2 537.2 H253.2 V548.8 H200.2 Z" fill="#2166ac"/>
<rect x="253.2" y="537.2" width="58.6" height="11.6" fill="#4393c3"/>
<rect x="311.8" y="537.2" width="58.6" height="11.6" fill="#92c5de"/>
<rect x="370.4" y="537.2" width="58.6" height="11.6" fill="#d1e5f0"/>
<rect x="429" y="537.2" width="58.6" height="11.6" fill="#f7f7f7" stroke="#d0d0d0" stroke-width="0.6"/>
<rect x="487.6" y="537.2" width="58.6" height="11.6" fill="#fddbc7"/>
<rect x="546.2" y="537.2" width="58.6" height="11.6" fill="#f4a582"/>
<rect x="604.8" y="537.2" width="58.6" height="11.6" fill="#d6604d"/>
<path d="M663.4 537.2 H716.4 L722 543 L716.4 548.8 H663.4 Z" fill="#b2182b"/>
<g stroke="#8a8a8a" stroke-width="0.8">
<line x1="253.2" y1="534" x2="253.2" y2="548.8"/>
<line x1="311.8" y1="534" x2="311.8" y2="548.8"/>
<line x1="370.4" y1="534" x2="370.4" y2="548.8"/>
<line x1="429" y1="534" x2="429" y2="548.8"/>
<line x1="487.6" y1="534" x2="487.6" y2="548.8"/>
<line x1="546.2" y1="534" x2="546.2" y2="548.8"/>
<line x1="604.8" y1="534" x2="604.8" y2="548.8"/>
<line x1="663.4" y1="534" x2="663.4" y2="548.8"/>
</g>
<g class="leg" text-anchor="middle">
<text x="254" y="529.8" textLength="30.9" lengthAdjust="spacingAndGlyphs">-2 °C</text>
<text x="312.6" y="529.8" textLength="41.4" lengthAdjust="spacingAndGlyphs">-1.5 °C</text>
<text x="371.2" y="529.8" textLength="30.2" lengthAdjust="spacingAndGlyphs">-1 °C</text>
<text x="429.8" y="529.8" textLength="41.4" lengthAdjust="spacingAndGlyphs">-0.5 °C</text>
<text x="488.2" y="529.8" textLength="25.6" lengthAdjust="spacingAndGlyphs">0 °C</text>
<text x="546.6" y="529.8" textLength="36.1" lengthAdjust="spacingAndGlyphs">0.5 °C</text>
<text x="605.4" y="529.8" textLength="24.6" lengthAdjust="spacingAndGlyphs">1 °C</text>
<text x="663.8" y="529.8" textLength="35.8" lengthAdjust="spacingAndGlyphs">1.5 °C</text>
</g>
</g>
<g id="footer">
<text class="foot" x="16" y="581.2" font-weight="700" textLength="72" lengthAdjust="spacingAndGlyphs">Data source:</text>
<text class="foot" x="92.5" y="581.2" textLength="418.5" lengthAdjust="spacingAndGlyphs">Contains modified Copernicus Climate Change Service information (2025)</text>
<text class="foot" x="575.4" y="581.2" textLength="255.2" lengthAdjust="spacingAndGlyphs">OurWorldinData.org/climate-change | CC BY</text>
</g>
</svg>
</body>
</html>
